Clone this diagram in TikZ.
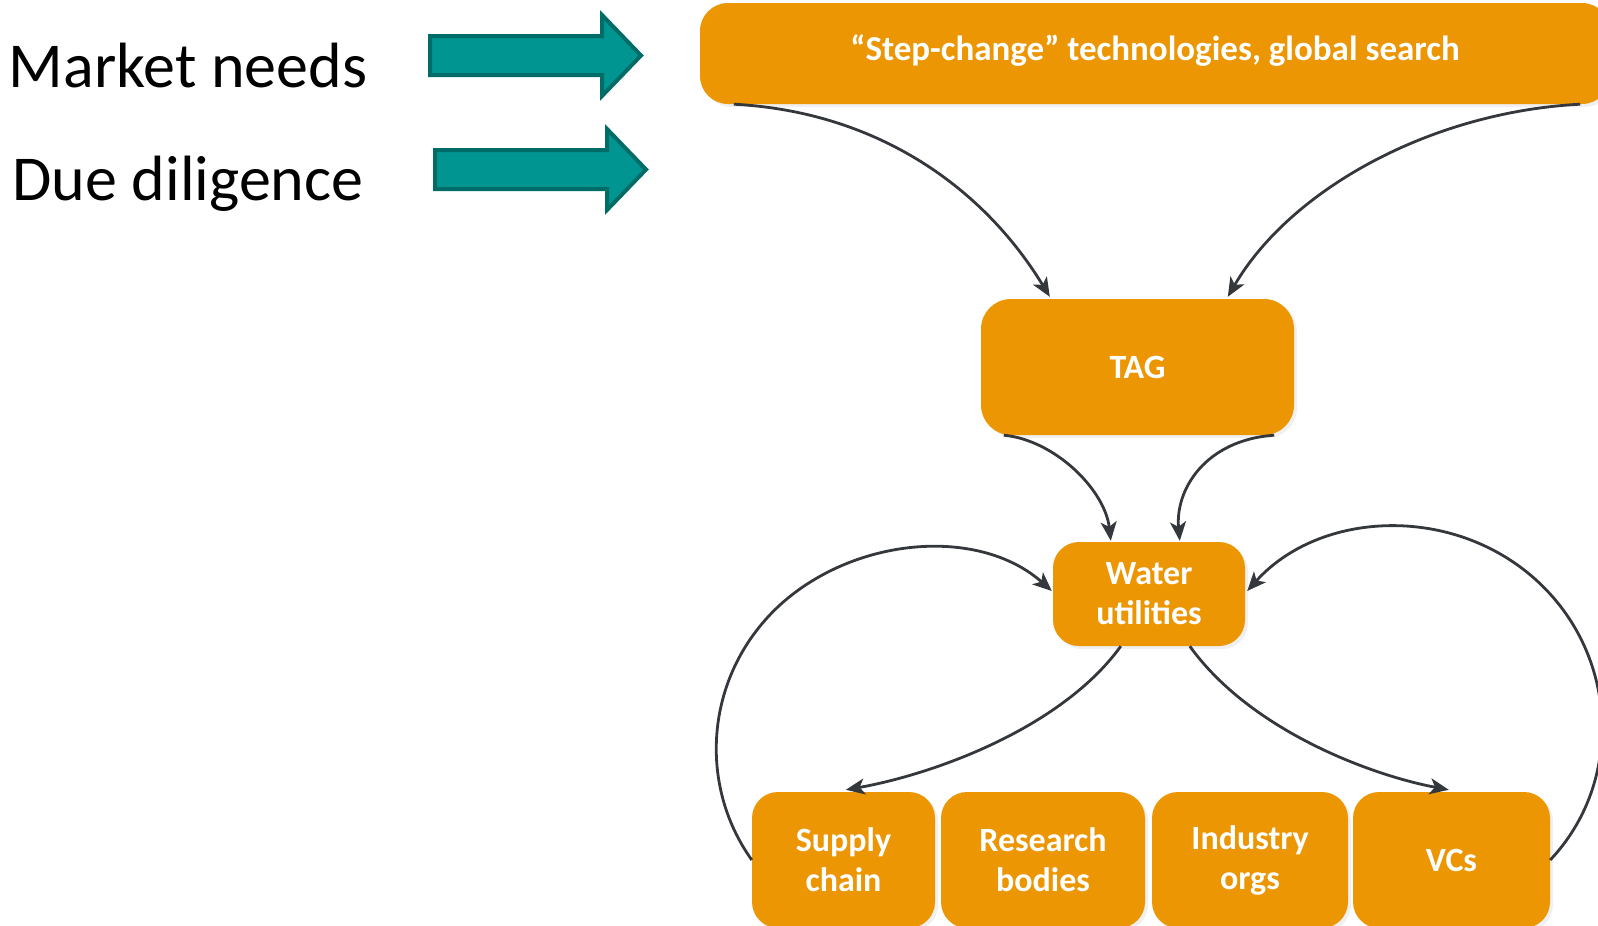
\documentclass[tikz,border=0pt]{standalone}
\usepackage{fontspec}
\setmainfont{Carlito}
\usetikzlibrary{arrows.meta,calc,shadows}
\definecolor{boxorange}{RGB}{237,150,4}
\definecolor{tealfill}{RGB}{0,149,144}
\definecolor{tealedge}{RGB}{0,108,104}
\definecolor{linegray}{RGB}{52,55,60}
\tikzset{
  obox/.style={draw=none, fill=boxorange, rounded corners=26pt, text=white,
    font=\bfseries\fontsize{34}{40}\selectfont, align=center, inner sep=0pt,
    drop shadow={opacity=0.12, shadow xshift=3pt, shadow yshift=-3pt}},
  boxtext/.style={text=white, font=\bfseries\fontsize{34}{40}\selectfont, align=center, inner sep=0pt},
  conn/.style={draw=linegray, line width=2.8pt, -{Stealth[length=19pt,width=16pt,inset=5pt]}},
  bigarrow/.style={fill=tealfill, draw=tealedge, line width=4pt, line join=miter},
  sidelabel/.style={font=\fontsize{64}{70}\selectfont, anchor=base, inner sep=0pt}
}
\begin{document}
\begin{tikzpicture}[x=1pt,y=-1pt]
\useasboundingbox (0,0) rectangle (1598,926);
\clip (0,0) rectangle (1598,926);
% side labels
\node[sidelabel] (mkt) at (188,87) {Market needs};
\node[sidelabel] (due) at (188,200) {Due diligence};
% teal arrows
\path[bigarrow] (430,36) -- (602,36) -- (602,15) -- (641,55.5) -- (602,96) -- (602,75) -- (430,75) -- cycle;
\path[bigarrow] (435,150) -- (607,150) -- (607,129) -- (646,169.5) -- (607,210) -- (607,189) -- (435,189) -- cycle;
% boxes
\node[obox, minimum width=910pt, minimum height=101pt, rounded corners=28pt] (top) at (1155,53.5) {};
\node[boxtext, font=\bfseries\fontsize{35}{40}\selectfont] (toptxt) at (1155,51) {“Step-change” technologies, global search};
\node[obox, minimum width=313pt, minimum height=136pt, rounded corners=30pt] (tag) at (1137.5,367) {TAG};
\node[obox, minimum width=192pt, minimum height=104pt] (water) at (1149,594) {Water\\utilities};
\node[obox, minimum width=183pt, minimum height=136pt] (supply) at (843.5,860) {};
\node[obox, minimum width=204pt, minimum height=136pt] (research) at (1043,860) {};
\node[obox, minimum width=196pt, minimum height=136pt] (industry) at (1250,860) {};
\node[obox, minimum width=197pt, minimum height=136pt] (vcs) at (1451.5,860) {};
\node[boxtext] (supplytxt) at (843.5,860) {Supply\\chain};
\node[boxtext] (researchtxt) at (1043,860) {Research\\bodies};
\node[boxtext] (industrytxt) at (1250,860) {Industry\\orgs};
\node[boxtext] (vcstxt) at (1451.5,860) {VCs};
% connectors
\draw[conn] ($(top.south west)+(34,0)$) .. controls (880,112) and (985,190) .. ($(tag.north west)+(69,-2)$);
\draw[conn] ($(top.south east)+(-30,0)$) .. controls (1430,112) and (1290,190) .. ($(tag.north west)+(247,-2)$);
\draw[conn] ($(tag.south west)+(23,0)$) .. controls (1055,440) and (1105,490) .. ($(water.north west)+(58,-1)$);
\draw[conn] ($(tag.south east)+(-20,0)$) .. controls (1205,440) and (1175,490) .. ($(water.north west)+(127,-1)$);
\draw[conn] ($(water.south west)+(68,0)$) .. controls (1060,730) and (930,775) .. ($(supply.north west)+(94,-2)$);
\draw[conn] ($(water.south west)+(137,0)$) .. controls (1250,730) and (1370,775) .. ($(vcs.north west)+(96,-2)$);
\draw[conn] (supply.west) .. controls (696,782) and (706,672) .. (781,604) .. controls (857,536) and (980,527) .. ($(water.west)+(-1,-3)$);
\draw[conn] (vcs.east) .. controls (1624,782) and (1619,654) .. (1535,579) .. controls (1451,504) and (1319,511) .. ($(water.east)+(2,-3)$);
\end{tikzpicture}
\end{document}
